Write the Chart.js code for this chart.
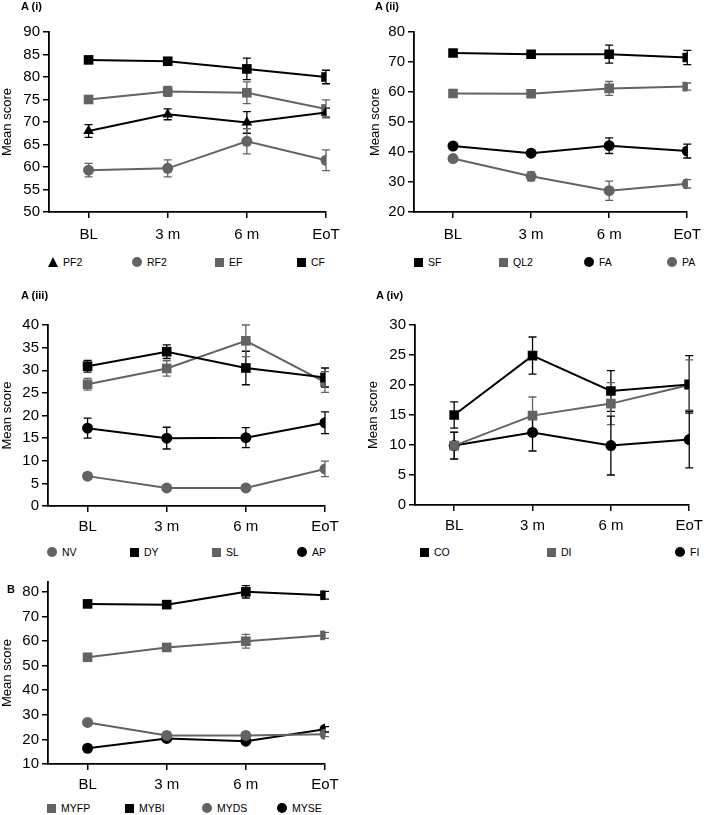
<!DOCTYPE html>
<html lang="en">
<head>
<meta charset="UTF-8">
<title>Mean scores over time</title>
<script src="https://cdn.jsdelivr.net/npm/chart.js"></script>
<style>
  body { margin: 0; background: #fff; font-family: "Liberation Sans", Arial, sans-serif; }
  #page { position: relative; width: 709px; height: 815px; }
  .panel { position: absolute; }
  .tag { position: absolute; font-weight: bold; font-size: 11px; line-height: 12px; }
  .leg { position: absolute; font-size: 10.5px; display: flex; align-items: center; transform: translate(-5px, -50%); white-space: nowrap; }
  .mk { display: inline-block; margin-right: 5px; }
  .rect { width: 9px; height: 9px; }
  .circle { width: 10px; height: 10px; border-radius: 50%; }
  .triangle { width: 0; height: 0; border-left: 5px solid transparent; border-right: 5px solid transparent; border-bottom: 10px solid #000; }
</style>
</head>
<body>
<div id="page"></div>

<script>
const timepoints = ['BL', '3 m', '6 m', 'EoT'];

// A (i)
const pf2 = [68.0, 71.7, 69.9, 72.1];
const pf2Err = [1.4, 1.2, 2.4, 1.0];
const rf2 = [59.3, 59.7, 65.7, 61.5];
const rf2Err = [1.5, 1.9, 2.8, 2.3];
const ef = [75.0, 76.8, 76.5, 72.9];
const efErr = [0.7, 1.1, 2.4, 2.0];
const cf = [83.8, 83.5, 81.8, 80.0];
const cfErr = [0.6, 0.8, 2.4, 1.5];
const ticksA1 = [50, 55, 60, 65, 70, 75, 80, 85, 90];

// A (ii)
const sf = [73.0, 72.6, 72.6, 71.5];
const sfErr = [0.8, 0.9, 3.0, 2.4];
const ql2 = [59.5, 59.4, 61.2, 61.8];
const ql2Err = [0.8, 0.9, 2.3, 1.2];
const fa = [42.0, 39.6, 42.1, 40.3];
const faErr = [0.8, 1.0, 2.6, 2.3];
const pa = [37.8, 31.9, 27.1, 29.4];
const paErr = [0.9, 1.5, 3.2, 1.4];
const ticksA2 = [20, 30, 40, 50, 60, 70, 80];

// A (iii)
const nv = [6.6, 4.0, 4.0, 8.2];
const nvErr = [0.7, 0.6, 0.7, 1.7];
const dy = [30.9, 34.1, 30.5, 28.4];
const dyErr = [1.3, 1.5, 3.7, 2.1];
const sl = [26.9, 30.4, 36.5, 27.4];
const slErr = [1.3, 1.7, 3.5, 2.3];
const ap = [17.2, 15.0, 15.1, 18.4];
const apErr = [2.2, 2.4, 2.2, 2.4];
const ticksA3 = [0, 5, 10, 15, 20, 25, 30, 35, 40];

// A (iv)
const co = [15.0, 24.9, 19.0, 20.1];
const coErr = [2.2, 3.1, 3.4, 4.8];
const di = [9.9, 14.9, 16.9, 20.0];
const diErr = [2.3, 3.1, 3.5, 4.2];
const fi = [9.9, 12.1, 9.9, 10.9];
const fiErr = [2.2, 3.1, 4.9, 4.7];
const ticksA4 = [0, 5, 10, 15, 20, 25, 30];

// B
const myfp = [53.4, 57.4, 59.9, 62.3];
const myfpErr = [0.8, 0.9, 2.8, 1.2];
const mybi = [75.1, 74.8, 80.0, 78.6];
const mybiErr = [0.8, 0.9, 2.5, 1.6];
const myds = [26.9, 21.6, 21.6, 22.1];
const mydsErr = [0.8, 0.9, 1.0, 1.0];
const myse = [16.4, 20.4, 19.3, 24.1];
const myseErr = [0.7, 0.9, 1.0, 1.1];
const ticksB = [10, 20, 30, 40, 50, 60, 70, 80];

const BLACK = '#000000';
const GREY = '#636363';
const FONT = '"Liberation Sans", Arial, sans-serif';

function series(label, vals, errs, color, shape) {
    const r = shape === 'rect' ? 6.8 : (shape === 'triangle' ? 6.2 : 5.5);
    return {
        label: label,
        data: vals.map((v, i) => ({x: i, y: v})),
        err: errs,
        shape: shape,
        borderColor: color,
        backgroundColor: color,
        pointBackgroundColor: color,
        pointBorderColor: color,
        pointBorderWidth: 0,
        pointStyle: shape,
        pointRadius: r,
        borderWidth: 2,
        tension: 0
    };
}

// whiskers for mean +/- error, drawn under the markers
const errorBars = {
    id: 'errorBars',
    beforeDatasetsDraw(chart) {
        const ctx = chart.ctx;
        const yScale = chart.scales.y;
        chart.data.datasets.forEach((ds, i) => {
            const meta = chart.getDatasetMeta(i);
            ctx.save();
            ctx.strokeStyle = ds.borderColor;
            ctx.lineWidth = 1.3;
            meta.data.forEach((pt, j) => {
                const v = ds.data[j].y;
                const e = ds.err[j];
                const top = yScale.getPixelForValue(v + e);
                const bot = yScale.getPixelForValue(v - e);
                ctx.beginPath();
                ctx.moveTo(pt.x, top);
                ctx.lineTo(pt.x, bot);
                ctx.moveTo(pt.x - 4, top);
                ctx.lineTo(pt.x + 4, top);
                ctx.moveTo(pt.x - 4, bot);
                ctx.lineTo(pt.x + 4, bot);
                ctx.stroke();
            });
            ctx.restore();
        });
    }
};

const page = document.getElementById('page');

function addTag(text, x, y) {
    const d = document.createElement('div');
    d.className = 'tag';
    d.textContent = text;
    d.style.left = x + 'px';
    d.style.top = y + 'px';
    page.appendChild(d);
}

function addLegend(datasets, xs, y) {
    datasets.forEach((ds, i) => {
        const item = document.createElement('div');
        item.className = 'leg';
        item.style.left = xs[i] + 'px';
        item.style.top = y + 'px';
        const mk = document.createElement('span');
        mk.className = 'mk ' + ds.shape;
        if (ds.shape === 'triangle') mk.style.borderBottomColor = ds.borderColor;
        else mk.style.background = ds.borderColor;
        item.appendChild(mk);
        item.appendChild(document.createTextNode(ds.label));
        page.appendChild(item);
    });
}

function makePanel(p, datasets, yMin, yMax, yTicks) {
    const box = document.createElement('div');
    box.className = 'panel';
    box.style.left = p.left + 'px';
    box.style.top = p.top + 'px';
    const canvas = document.createElement('canvas');
    canvas.width = p.w;
    canvas.height = p.h;
    canvas.style.width = p.w + 'px';
    canvas.style.height = p.h + 'px';
    box.appendChild(canvas);
    page.appendChild(box);

    const axisGrid = {display: true, drawOnChartArea: false, drawTicks: true, tickLength: 6, color: BLACK, lineWidth: 1.5};
    return new Chart(canvas, {
        type: 'line',
        data: {datasets: datasets},
        options: {
            responsive: false,
            animation: false,
            layout: {padding: {top: p.padTop, right: p.padRight, left: 0, bottom: 0}},
            plugins: {legend: {display: false}, tooltip: {enabled: false}},
            scales: {
                x: {
                    type: 'linear',
                    min: -0.5,
                    max: 3,
                    afterBuildTicks: a => { a.ticks = timepoints.map((t, i) => ({value: i})); },
                    afterFit: s => { s.height = p.xH; },
                    ticks: {
                        callback: v => timepoints[v],
                        color: BLACK,
                        font: {size: 15, family: FONT},
                        padding: p.xPad,
                        maxRotation: 0,
                        autoSkip: false
                    },
                    grid: axisGrid,
                    border: {color: BLACK, width: 1.8}
                },
                y: {
                    min: yMin,
                    max: yMax,
                    afterBuildTicks: a => { a.ticks = yTicks.map(v => ({value: v})); },
                    afterFit: s => { s.width = p.yW; },
                    ticks: {
                        color: BLACK,
                        font: {size: 15, family: FONT},
                        padding: 3
                    },
                    grid: axisGrid,
                    border: {color: BLACK, width: 1.8},
                    title: {
                        display: true,
                        text: 'Mean score',
                        color: BLACK,
                        font: {size: 13, family: FONT},
                        padding: 0
                    }
                }
            }
        },
        plugins: [errorBars]
    });
}

// A (i)
const dsA1 = [
    series('PF2', pf2, pf2Err, BLACK, 'triangle'),
    series('RF2', rf2, rf2Err, GREY, 'circle'),
    series('EF', ef, efErr, GREY, 'rect'),
    series('CF', cf, cfErr, BLACK, 'rect')
];
makePanel({left: 0, top: 0, w: 354, h: 250, yW: 49, padTop: 32, padRight: 28, xH: 38, xPad: 8}, dsA1, 50, 90, ticksA1);
addTag('A (i)', 21, 0);
addLegend(dsA1, [53, 137, 220, 302], 262);

// A (ii)
const dsA2 = [
    series('SF', sf, sfErr, BLACK, 'rect'),
    series('QL2', ql2, ql2Err, GREY, 'rect'),
    series('FA', fa, faErr, BLACK, 'circle'),
    series('PA', pa, paErr, GREY, 'circle')
];
makePanel({left: 368, top: 0, w: 341, h: 250, yW: 46, padTop: 32, padRight: 15, xH: 38, xPad: 8}, dsA2, 20, 80, ticksA2);
addTag('A (ii)', 375, 0);
addLegend(dsA2, [419, 504, 589, 672], 262);

// A (iii)
const dsA3 = [
    series('NV', nv, nvErr, GREY, 'circle'),
    series('DY', dy, dyErr, BLACK, 'rect'),
    series('SL', sl, slErr, GREY, 'rect'),
    series('AP', ap, apErr, BLACK, 'circle')
];
makePanel({left: 0, top: 290, w: 354, h: 250, yW: 48, padTop: 35, padRight: 29, xH: 34, xPad: 6}, dsA3, 0, 40, ticksA3);
addTag('A (iii)', 21, 289);
addLegend(dsA3, [52, 135, 217, 302], 552);

// A (iv)
const dsA4 = [
    series('CO', co, coErr, BLACK, 'rect'),
    series('DI', di, diErr, GREY, 'rect'),
    series('FI', fi, fiErr, BLACK, 'circle')
];
makePanel({left: 366, top: 290, w: 343, h: 250, yW: 49, padTop: 35, padRight: 15, xH: 35, xPad: 6}, dsA4, 0, 30, ticksA4);
addTag('A (iv)', 376, 289);
addLegend(dsA4, [425, 552, 680], 552);

// B
const dsB = [
    series('MYFP', myfp, myfpErr, GREY, 'rect'),
    series('MYBI', mybi, mybiErr, BLACK, 'rect'),
    series('MYDS', myds, mydsErr, GREY, 'circle'),
    series('MYSE', myse, myseErr, BLACK, 'circle')
];
makePanel({left: 0, top: 565, w: 354, h: 230, yW: 48, padTop: 17, padRight: 29, xH: 31, xPad: 6}, dsB, 10, 84, ticksB);
addTag('B', 7, 583);
addLegend(dsB, [52, 130, 207, 282], 808);
</script>
</body>
</html>
